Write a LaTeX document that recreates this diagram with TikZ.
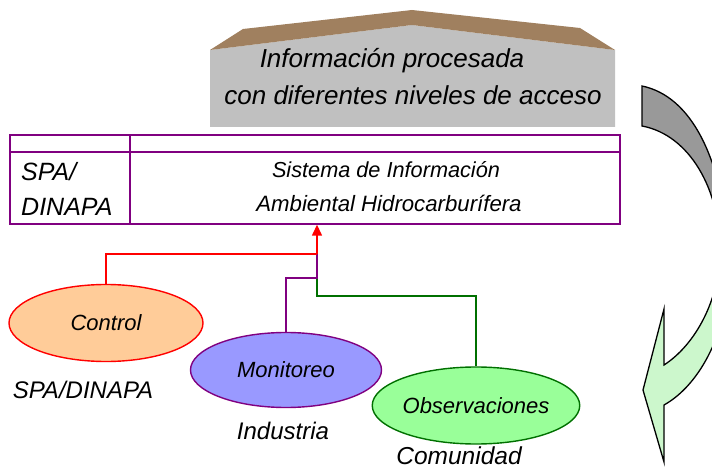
\documentclass[tikz,border=0pt]{standalone}
\usepackage{fontspec}
\setmainfont{Liberation Sans}
\usetikzlibrary{shapes.geometric,arrows.meta}
\definecolor{roof}{HTML}{A0805F}
\definecolor{boxgray}{HTML}{C0C0C0}
\definecolor{tblpurple}{HTML}{800080}
\definecolor{ctrlfill}{HTML}{FFCC99}
\definecolor{monfill}{HTML}{9999FF}
\definecolor{obsfill}{HTML}{99FF99}
\definecolor{obsline}{HTML}{007000}
\definecolor{arrgray}{HTML}{999999}
\definecolor{arrgreen}{HTML}{CCF7CC}
\begin{document}
\begin{tikzpicture}[x=1pt,y=-1pt,
  txt/.style={inner sep=0pt, font=\itshape},
  oval/.style={ellipse, inner sep=0pt, line width=1.4pt, minimum width=194pt, minimum height=77pt,
    font=\fontsize{22}{26}\selectfont\itshape},
  conn/.style={line width=1.4pt}]
\useasboundingbox (0,0) rectangle (712,470);
\clip (0,0) rectangle (712,470);

% top box with roof
\fill[boxgray] (210,127) -- (210,50) -- (412,25) -- (615,50) -- (615,127) -- cycle;
\fill[roof] (210,50) -- (243,29) -- (412,10) -- (580,28) -- (615,50) -- (412,25) -- cycle;
\node[txt, anchor=base, font=\fontsize{26}{30}\selectfont\itshape] (t1) at (392,68) {Información procesada};
\node[txt, anchor=base, font=\fontsize{26}{30}\selectfont\itshape] (t2) at (413,105) {con diferentes niveles de acceso};

% table
\node[draw=tblpurple, line width=1.4pt, minimum width=610pt, minimum height=89pt, inner sep=0pt] (tbl) at (315,179.5) {};
\draw[tblpurple, line width=1.4pt] (10,152) -- (620,152);
\draw[tblpurple, line width=1.4pt] (130,135) -- (130,224);
\node[txt, anchor=base west, font=\fontsize{25}{29}\selectfont\itshape] (spa1) at (21,181) {SPA/};
\node[txt, anchor=base west, font=\fontsize{25}{29}\selectfont\itshape] (spa2) at (21,216) {DINAPA};
\node[txt, anchor=base, font=\fontsize{21.7}{26}\selectfont\itshape] (s1) at (386,178) {Sistema de Información};
\node[txt, anchor=base, font=\fontsize{22.2}{26}\selectfont\itshape] (s2) at (389,212) {Ambiental Hidrocarburífera};

% ellipses
\node[oval, draw=red, fill=ctrlfill] (ctrl) at (106,323) {Control};
\node[oval, draw=tblpurple, fill=monfill, minimum width=191pt, minimum height=75pt] (mon) at (286,370) {Monitoreo};
\node[oval, draw=obsline, fill=obsfill, minimum width=193pt] (obs) at (476,405.5) {Observaciones};

\node[txt, font=\fontsize{24}{28}\selectfont\itshape] (l1) at (83,390) {SPA/DINAPA};
\node[txt, font=\fontsize{24}{28}\selectfont\itshape] (l2) at (283,431) {Industria};
\node[txt, font=\fontsize{24.5}{28}\selectfont\itshape] (l3) at (459,456) {Comunidad};

% connectors
\coordinate (j1) at (317,254);
\coordinate (j2) at (317,278);
\coordinate (j3) at (317,296);
\draw[conn, obsline] (obs.north) |- (j3) -- (j2);
\draw[conn, tblpurple] (mon.north) |- (j2) -- (j1);
\draw[conn, red] (ctrl.north) |- (j1);
\draw[conn, red, -{Triangle[length=11pt,width=10pt]}] (j1) -- (j1 |- tbl.south);

% curved arrow on the right
\def\carrow{(642,86) .. controls (690,96) and (723,155) .. (730,260)
  .. controls (730,330) and (700,385) .. (664,405) -- (664,462) -- (643,390) -- (664,309) -- (664,365)
  .. controls (695,345) and (720,300) .. (720,250) .. controls (720,190) and (690,135) .. (642,126) -- cycle}
\begin{scope}
  \clip (600,0) rectangle (712,246);
  \fill[arrgray] \carrow;
\end{scope}
\begin{scope}
  \clip (600,246) rectangle (712,470);
  \fill[arrgreen] \carrow;
\end{scope}
\draw[line width=1.3pt, line join=miter] \carrow;
\end{tikzpicture}
\end{document}
